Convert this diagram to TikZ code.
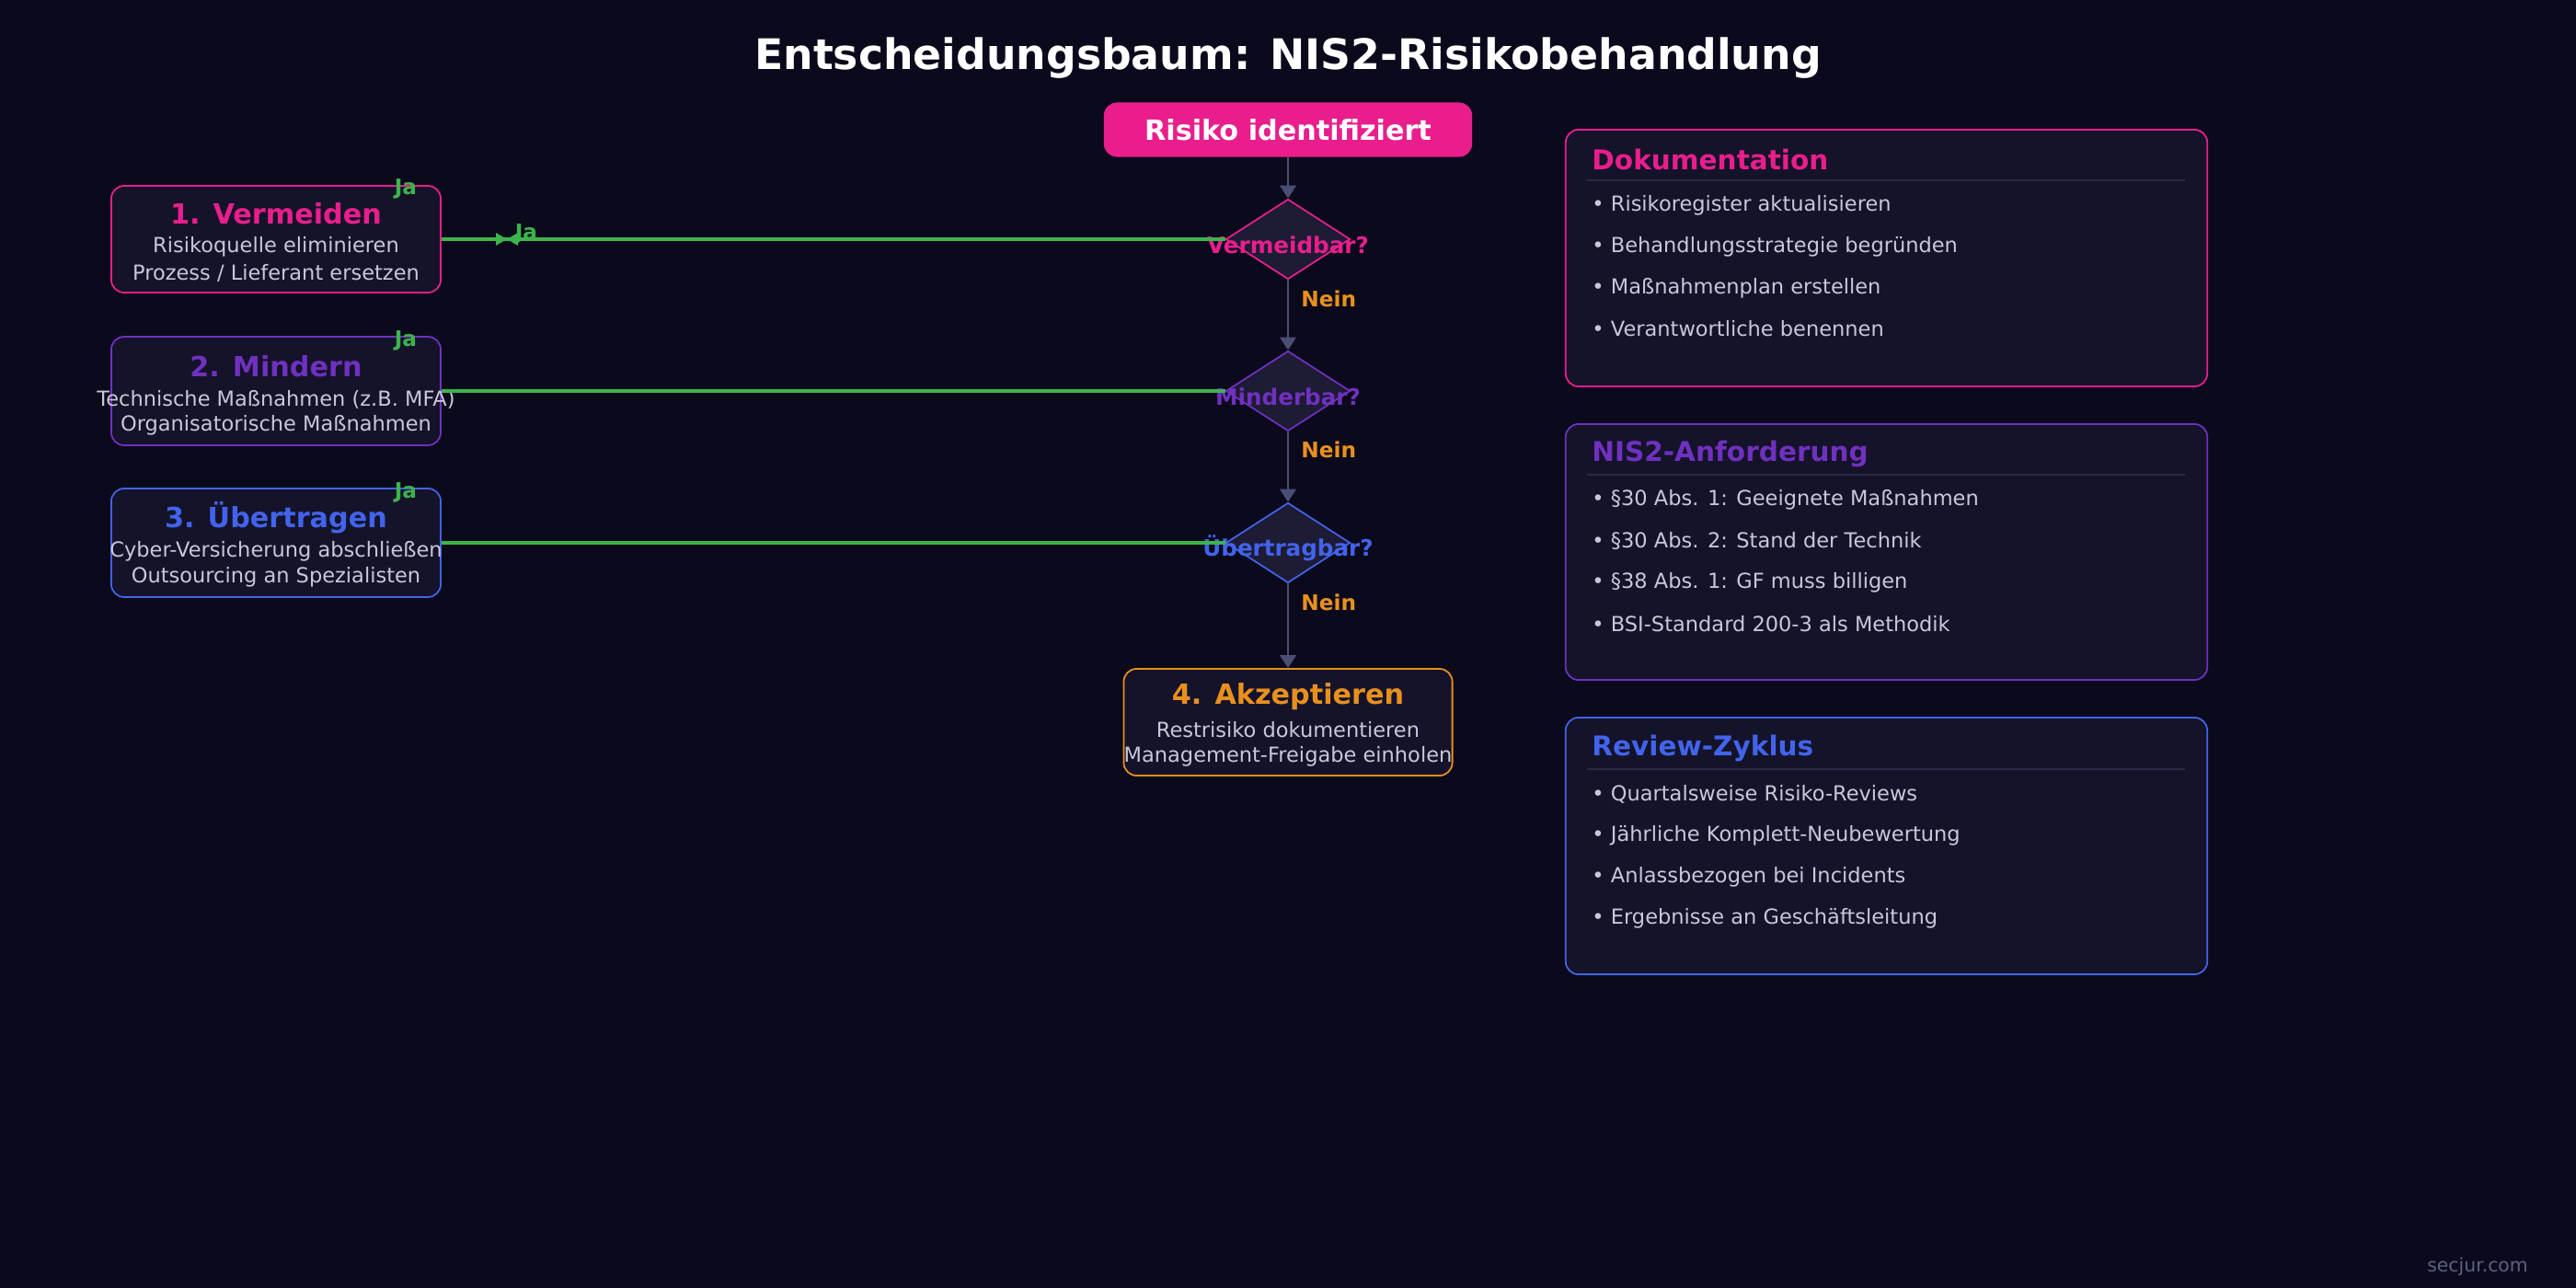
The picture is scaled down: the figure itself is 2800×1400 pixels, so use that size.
\documentclass[tikz,border=0pt]{standalone}
\usepackage{fontspec}
\setmainfont{DejaVu Sans}
\usetikzlibrary{shapes.geometric,arrows.meta}
\definecolor{bg}{HTML}{0B0A1C}
\definecolor{boxf}{HTML}{14132A}
\definecolor{diaf}{HTML}{1E1B35}
\definecolor{pink}{HTML}{E91E8C}
\definecolor{purp}{HTML}{7030C0}
\definecolor{blu}{HTML}{4263EB}
\definecolor{ora}{HTML}{E8901F}
\definecolor{grn}{HTML}{3CB44B}
\definecolor{txt}{HTML}{C8C8D8}
\definecolor{conn}{HTML}{4A4E75}
\definecolor{sep}{HTML}{2A2945}
\begin{document}
\begin{tikzpicture}[x=0.01cm,y=-0.01cm,
 optbox/.style={draw=#1,fill=boxf,rounded corners=4pt,line width=0.5pt},
 dia/.style={diamond,draw=#1,fill=diaf,minimum width=1.35cm,minimum height=0.87cm,inner sep=0pt,aspect=1.55,line width=0.5pt},
 dtext/.style={font=\bfseries\fontsize{7}{8}\selectfont,text=#1},
 btitle/.style={font=\bfseries\fontsize{8.6}{10}\selectfont,text=#1},
 small/.style={font=\fontsize{6.4}{7.5}\selectfont,text=txt},
 ja/.style={font=\bfseries\fontsize{6.6}{8}\selectfont,text=grn},
 nein/.style={font=\bfseries\fontsize{6.6}{8}\selectfont,text=ora,anchor=west},
 vline/.style={draw=conn,line width=0.8pt,-{Triangle[length=4pt,width=5pt]}},
 gline/.style={draw=grn,line width=0.9pt},
 panel/.style={draw=#1,fill=boxf,rounded corners=4pt,line width=0.5pt},
 phead/.style={font=\bfseries\fontsize{8.4}{10}\selectfont,text=#1,anchor=west},
 bul/.style={font=\fontsize{6.4}{7.5}\selectfont,text=txt,anchor=west}]
\fill[bg] (0,0) rectangle (2800,1400);
\useasboundingbox (0,0) rectangle (2800,1400);
\node[font=\bfseries\fontsize{13}{15}\selectfont,text=white] (title) at (1400,63) {Entscheidungsbaum: NIS2-Risikobehandlung};
% start
\node[fill=pink,rounded corners=4pt,minimum width=4cm,minimum height=0.59cm,font=\bfseries\fontsize{8.6}{10}\selectfont,text=white] (start) at (1400,141) {Risiko identifiziert};
% diamonds
\node[dia=pink] (d1) at (1400,260) {};
\node[dia=purp] (d2) at (1400,425) {};
\node[dia=blu] (d3) at (1400,590) {};
\node[dtext=pink] (d1t) at (1400,266) {Vermeidbar?};
\node[dtext=purp] (d2t) at (1400,431) {Minderbar?};
\node[dtext=blu] (d3t) at (1400,596) {Übertragbar?};
% accept
\node[optbox=ora,minimum width=3.57cm,minimum height=1.16cm] (acc) at (1400,785) {};
\node[btitle=ora] (acct) at (1400,757) {4. Akzeptieren};
\node[small] (acc1) at (1400,793) {Restrisiko dokumentieren};
\node[small] (acc2) at (1400,822) {Management-Freigabe einholen};
% vertical connectors
\draw[vline] (start.south) -- (d1.north);
\draw[vline] (d1.south) -- (d2.north);
\draw[vline] (d2.south) -- (d3.north);
\draw[vline] (d3.south) -- (acc.north);
\node[nein] (n1) at (1402,325) {Nein};
\node[nein] (n2) at (1402,489) {Nein};
\node[nein] (n3) at (1402,655) {Nein};
% left boxes
\node[optbox=pink,minimum width=3.58cm,minimum height=1.16cm] (b1) at (300,260) {};
\node[btitle=pink] (b1t) at (300,232) {1. Vermeiden};
\node[small] (b1a) at (300,268) {Risikoquelle eliminieren};
\node[small] (b1b) at (300,297) {Prozess / Lieferant ersetzen};
\node[optbox=purp,minimum width=3.58cm,minimum height=1.18cm] (b2) at (300,425) {};
\node[btitle=purp] (b2t) at (300,398) {2. Mindern};
\node[small] (b2a) at (300,434) {Technische Maßnahmen (z.B. MFA)};
\node[small] (b2b) at (300,462) {Organisatorische Maßnahmen};
\node[optbox=blu,minimum width=3.58cm,minimum height=1.18cm] (b3) at (300,590) {};
\node[btitle=blu] (b3t) at (300,563) {3. Übertragen};
\node[small] (b3a) at (300,599) {Cyber-Versicherung abschließen};
\node[small] (b3b) at (300,627) {Outsourcing an Spezialisten};
\node[ja] (j1) at (441,205) {Ja};
\node[ja] (j2) at (441,370) {Ja};
\node[ja] (j3) at (441,535) {Ja};
% green connectors
\coordinate (m1) at (545,260);
\draw[gline] (b1.east) -- (d1.west);
\fill[grn] (m1) ++(-6,-7) -- ++(12,7) -- ++(-12,7) -- cycle;
\fill[grn] (m1) ++(18,-7) -- ++(-12,7) -- ++(12,7) -- cycle;
\node[ja] (j1b) at (572,254) {Ja};
\draw[gline] (b2.east) -- (d2.west);
\draw[gline] (b3.east) -- (d3.west);
% panels
\node[panel=pink,minimum width=6.97cm,minimum height=2.79cm] (p1) at (2050.5,280.5) {};
\node[phead=pink] (p1h) at (1718,173) {Dokumentation};
\draw[sep,line width=0.5pt] (1725,196) -- (2375,196);
\node[bul] (p1a) at (1718,223) {• Risikoregister aktualisieren};
\node[bul] (p1b) at (1718,268) {• Behandlungsstrategie begründen};
\node[bul] (p1c) at (1718,313) {• Maßnahmenplan erstellen};
\node[bul] (p1d) at (1718,357) {• Verantwortliche benennen};
\node[panel=purp,minimum width=6.97cm,minimum height=2.78cm] (p2) at (2050.5,600) {};
\node[phead=purp] (p2h) at (1718,493) {NIS2-Anforderung};
\draw[sep,line width=0.5pt] (1725,516) -- (2375,516);
\node[bul] (p2a) at (1718,543) {• §30 Abs. 1: Geeignete Maßnahmen};
\node[bul] (p2b) at (1718,588) {• §30 Abs. 2: Stand der Technik};
\node[bul] (p2c) at (1718,633) {• §38 Abs. 1: GF muss billigen};
\node[bul] (p2d) at (1718,678) {• BSI-Standard 200-3 als Methodik};
\node[panel=blu,minimum width=6.97cm,minimum height=2.79cm] (p3) at (2050.5,919.5) {};
\node[phead=blu] (p3h) at (1718,813) {Review-Zyklus};
\draw[sep,line width=0.5pt] (1725,836) -- (2375,836);
\node[bul] (p3a) at (1718,863) {• Quartalsweise Risiko-Reviews};
\node[bul] (p3b) at (1718,908) {• Jährliche Komplett-Neubewertung};
\node[bul] (p3c) at (1718,953) {• Anlassbezogen bei Incidents};
\node[bul] (p3d) at (1718,998) {• Ergebnisse an Geschäftsleitung};
\node[font=\fontsize{5.8}{7}\selectfont,text=conn!90!white] (foot) at (2693,1377) {secjur.com};
\end{tikzpicture}
\end{document}
